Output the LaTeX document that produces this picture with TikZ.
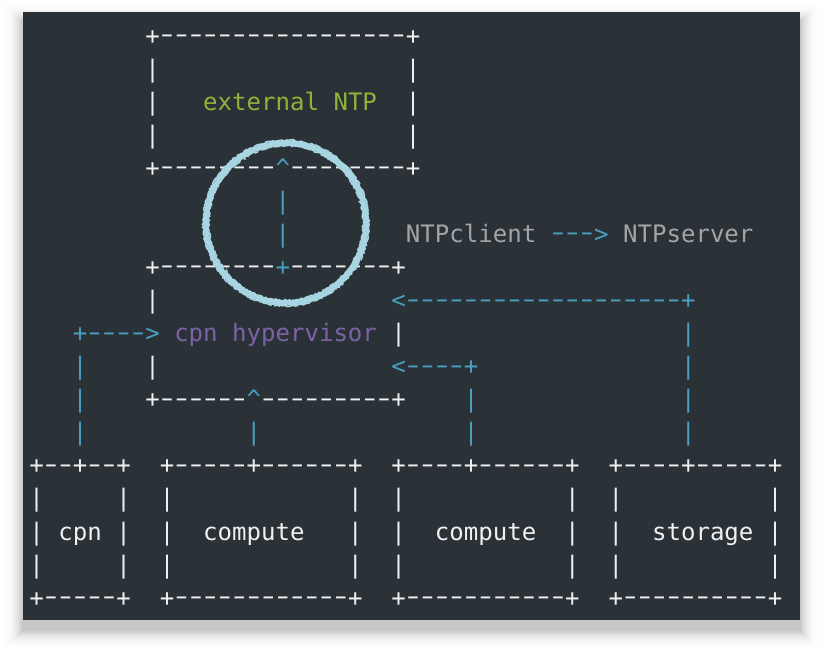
\documentclass[tikz,border=0pt]{standalone}
\usepackage{fontspec}
\usepackage{graphicx}
\setmonofont{DejaVu Sans Mono}
\usetikzlibrary{decorations.pathmorphing}

\definecolor{termbg}{HTML}{2A3137}
\definecolor{boxwhite}{HTML}{F0F0F0}
\definecolor{ntpgreen}{HTML}{8FB339}
\definecolor{hyppurple}{HTML}{7C62A6}
\definecolor{wireblue}{HTML}{4A9FC0}
\definecolor{notegray}{HTML}{A4A4A4}
\definecolor{chalkblue}{HTML}{A8D5E2}

% one long dash cell, n dash cells
\newcommand\dashcell{\makebox[0.60205em]{\raisebox{1.5pt}{\scalebox{1.55}[1]{-}}}}
\newcommand\dashrun[1]{\foreach\i in {1,...,#1}{\dashcell}}

\tikzset{
  asc/.style={anchor=base west, inner sep=0pt, xshift=-7.24pt, yshift=-9pt,
    text=boxwhite, font=\ttfamily\fontsize{24.05pt}{33pt}\selectfont},
  wire/.style={asc, text=wireblue},
  note/.style={asc, text=notegray},
  chalk/.style={draw=chalkblue, line width=5pt},
  chalkedge/.style={draw=chalkblue, line width=1.6pt,
    decorate, decoration={random steps, segment length=1.5pt, amplitude=0.9pt}},
}

\begin{document}
\begin{tikzpicture}[x=14.48pt, y=-33.07pt]
  \fill[white] (-36.5pt,35pt) rectangle (786.5pt,-619pt);
  \useasboundingbox (-36.5pt,35pt) rectangle (786.5pt,-619pt);
  % soft shadow under the terminal
  \foreach \s [evaluate=\s as \v using {22*((25-\s)/24)^3}] in {24,23,...,1}
    \fill[black!\v]
      ({(-13.8-\s)*1pt}, {(13.3+\s)*1pt})
      rectangle ({(763.5+\s)*1pt}, {(-595-\s)*1pt});
  \fill[termbg] (-13.8pt,23.3pt) rectangle (763.5pt,-585pt);

  % external NTP
  \node[asc] (ntp-t) at (8,0) {+\dashrun{17}+};
  \foreach \r in {1,2,3} {
    \node[asc] (ntp-l\r) at (8,\r) {|};
    \node[asc] (ntp-r\r) at (26,\r) {|};
  }
  \node[asc, text=ntpgreen] (ntp) at (12,2) {external NTP};
  \node[asc] (ntp-b1) at (8,4) {+\dashrun{8}};
  \node[wire] (ntp-in) at (17,4) {\textasciicircum};
  \node[asc] (ntp-b2) at (18,4) {\dashrun{8}+};
  \foreach \r in {5,6}
    \node[wire] (up\r) at (17,\r) {|};

  % legend
  \node[note] (cli) at (26,6) {NTPclient};
  \node[wire] (leg) at (36,6) {\dashrun{3}>};
  \node[note] (srv) at (41,6) {NTPserver};

  % cpn hypervisor
  \node[asc] (hyp-t1) at (8,7) {+\dashrun{8}};
  \node[wire] (hyp-out) at (17,7) {+};
  \node[asc] (hyp-t2) at (18,7) {\dashrun{7}+};
  \node[asc] (hyp-l8) at (8,8) {|};
  \node[wire] (st-in) at (25,8) {<\dashrun{19}+};
  \node[wire] (cpn-in) at (3,9) {+\dashrun{4}>};
  \node[asc, text=hyppurple] (hyp) at (10,9) {cpn hypervisor};
  \node[asc] (hyp-r9) at (25,9) {|};
  \node[asc] (hyp-l10) at (8,10) {|};
  \node[wire] (c2-in) at (25,10) {<\dashrun{4}+};
  \node[asc] (hyp-b1) at (8,11) {+\dashrun{6}};
  \node[wire] (c1-in) at (15,11) {\textasciicircum};
  \node[asc] (hyp-b2) at (16,11) {\dashrun{9}+};

  % wires up from the hosts
  \foreach \r in {10,11,12}
    \node[wire] (cw\r) at (3,\r) {|};
  \node[wire] (c1w) at (15,12) {|};
  \foreach \r in {11,12}
    \node[wire] (c2w\r) at (30,\r) {|};
  \foreach \r in {9,...,12}
    \node[wire] (sw\r) at (45,\r) {|};

  % hosts
  \node[asc] (cpn-t) at (0,13) {+\dashrun{2}+\dashrun{2}+};
  \node[asc] (c1-t) at (9,13) {+\dashrun{5}+\dashrun{6}+};
  \node[asc] (c2-t) at (25,13) {+\dashrun{4}+\dashrun{6}+};
  \node[asc] (st-t) at (40,13) {+\dashrun{4}+\dashrun{5}+};
  \foreach \r in {14,15,16}
    \foreach \c in {0,6,9,22,25,37,40,51}
      \node[asc] (v\c-\r) at (\c,\r) {|};
  \node[asc] (cpn) at (2,15) {cpn};
  \node[asc] (c1) at (12,15) {compute};
  \node[asc] (c2) at (28,15) {compute};
  \node[asc] (st) at (43,15) {storage};
  \node[asc] (cpn-b) at (0,17) {+\dashrun{5}+};
  \node[asc] (c1-b) at (9,17) {+\dashrun{12}+};
  \node[asc] (c2-b) at (25,17) {+\dashrun{11}+};
  \node[asc] (st-b) at (40,17) {+\dashrun{10}+};

  % chalk mark
  \draw[chalk] (249.5pt,-188pt) circle[radius=80pt];
  \draw[chalkedge] (249.5pt,-188pt) circle[radius=77.3pt];
  \draw[chalkedge] (249.5pt,-188pt) circle[radius=82.7pt];
\end{tikzpicture}
\end{document}
